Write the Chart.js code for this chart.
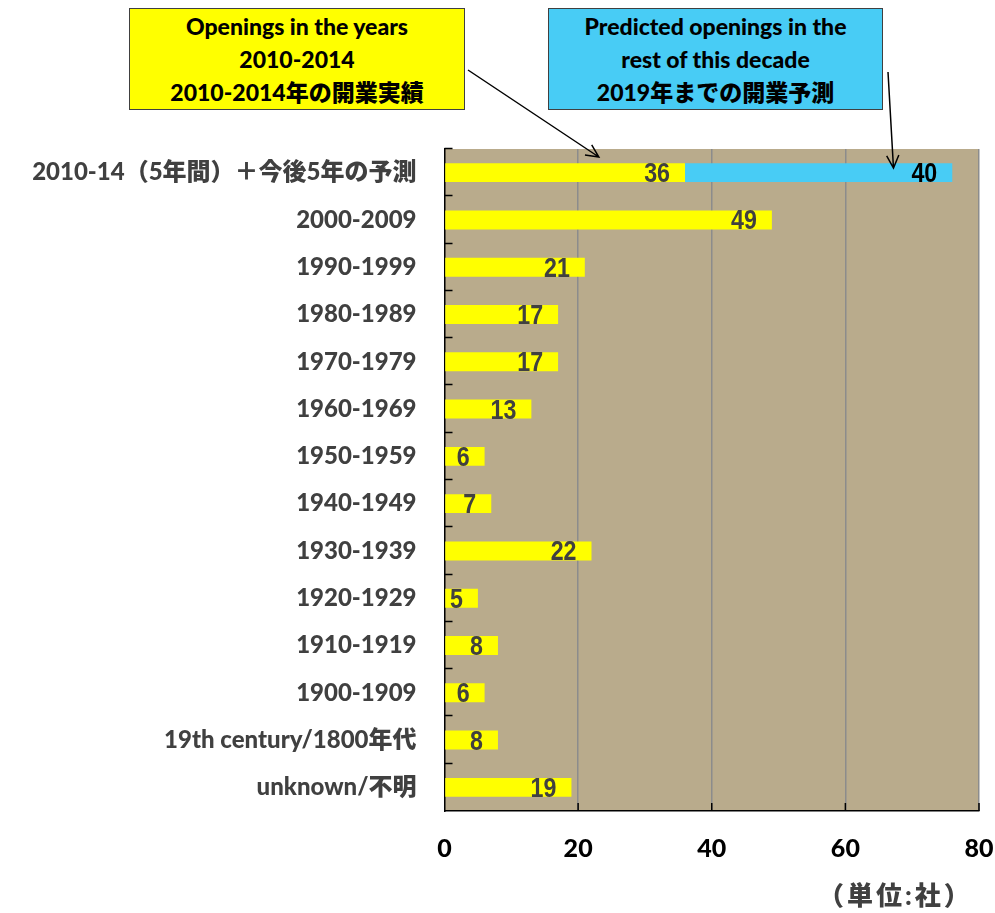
<!DOCTYPE html>
<html>
<head>
<meta charset="utf-8">
<script src="https://cdn.jsdelivr.net/npm/chart.js@4.4.1/dist/chart.umd.min.js"></script>
<style>
  html, body { margin: 0; padding: 0; background: #fff; }
  #wrap { position: relative; width: 995px; height: 913px; }
  canvas { position: absolute; left: 0; top: 0; }
  .callout {
    position: absolute; box-sizing: border-box; border: 1.5px solid #404040;
    font: 900 23px Lato, "Noto Sans CJK JP", sans-serif; color: #000;
    text-align: center; line-height: 33px; padding-top: 1px;
  }
  #unit {
    position: absolute; left: 818px; top: 875px; letter-spacing: 3px;
    font: 900 26px Lato, "Noto Sans CJK JP", sans-serif; color: #404040;
  }
</style>
</head>
<body>
<div id="wrap">
  <canvas id="chart" width="995" height="913"></canvas>
  <div class="callout" style="left:129px;top:8px;width:336px;height:102px;background:#ffff00;">Openings in the years<br>2010-2014<br>2010-2014年の開業実績</div>
  <div class="callout" style="left:548px;top:8px;width:335px;height:102px;background:#48ccf5;">Predicted openings in the<br>rest of this decade<br>2019年までの開業予測</div>
  <div id="unit">（単位:社）</div>
</div>
<script>
const categories = [
  '2010-14（5年間）＋今後5年の予測', '2000-2009', '1990-1999', '1980-1989', '1970-1979',
  '1960-1969', '1950-1959', '1940-1949', '1930-1939', '1920-1929', '1910-1919',
  '1900-1909', '19th century/1800年代', 'unknown/不明'
];
const openings = [36, 49, 21, 17, 17, 13, 6, 7, 22, 5, 8, 6, 8, 19];
const predicted = [40, null, null, null, null, null, null, null, null, null, null, null, null, null];
const xTicks = [0, 20, 40, 60, 80];

// narrow look for the value labels: Liberation Sans bold squeezed sideways
const labelFont = 'bold 27px "Liberation Sans", Arial, sans-serif';
const squeeze = 0.86;

// plot background, inner tick marks, value labels and callout arrows
const extras = {
  id: 'extras',
  beforeDraw(chart) {
    const { ctx, chartArea: a } = chart;
    ctx.save();
    ctx.fillStyle = '#b9ab8c';
    ctx.fillRect(a.left, a.top, a.right - a.left, a.bottom - a.top);
    ctx.restore();
  },
  afterDatasetsDraw(chart) {
    const { ctx } = chart;
    chart.data.datasets.forEach((ds, di) => {
      const meta = chart.getDatasetMeta(di);
      meta.data.forEach((bar, i) => {
        if (ds.data[i] == null) return;
        ctx.save();
        ctx.font = labelFont;
        ctx.textAlign = 'right';
        ctx.textBaseline = 'middle';
        ctx.fillStyle = ds.labelColor;
        ctx.translate(bar.x - 15, bar.y + 2);
        ctx.scale(squeeze, 1);
        ctx.fillText(String(ds.data[i]), 0, 0);
        ctx.restore();
      });
    });
  },
  afterDraw(chart) {
    const { ctx, chartArea: a, scales } = chart;
    ctx.save();
    ctx.strokeStyle = '#000';
    ctx.lineWidth = 1.5;
    const n = categories.length;
    const step = (a.bottom - a.top) / n;
    ctx.beginPath();
    for (let i = 0; i < n; i++) {
      const y = Math.round(a.top + i * step) - 0.5;
      ctx.moveTo(a.left, y);
      ctx.lineTo(a.left + 8, y);
    }
    xTicks.slice(1).forEach(v => {
      const x = scales.x.getPixelForValue(v);
      ctx.moveTo(x, a.bottom);
      ctx.lineTo(x, a.bottom - 8);
    });
    ctx.stroke();

    const arrow = (x1, y1, x2, y2) => {
      const ang = Math.atan2(y2 - y1, x2 - x1);
      const len = 14, spread = 0.45;
      ctx.beginPath();
      ctx.moveTo(x1, y1);
      ctx.lineTo(x2, y2);
      ctx.moveTo(x2 - len * Math.cos(ang - spread), y2 - len * Math.sin(ang - spread));
      ctx.lineTo(x2, y2);
      ctx.lineTo(x2 - len * Math.cos(ang + spread), y2 - len * Math.sin(ang + spread));
      ctx.stroke();
    };
    arrow(468, 70, scales.x.getPixelForValue(23.1), a.top + 8);
    arrow(888, 72, scales.x.getPixelForValue(67.2), a.top + 19);
    ctx.restore();
  }
};

new Chart(document.getElementById('chart'), {
  type: 'bar',
  data: {
    labels: categories,
    datasets: [
      {
        label: 'Openings',
        data: openings,
        backgroundColor: '#ffff00',
        labelColor: '#404040',
        barPercentage: 0.4,
        categoryPercentage: 1
      },
      {
        label: 'Predicted',
        data: predicted,
        backgroundColor: '#48ccf5',
        labelColor: '#000000',
        barPercentage: 0.4,
        categoryPercentage: 1
      }
    ]
  },
  options: {
    indexAxis: 'y',
    responsive: false,
    animation: false,
    layout: { padding: { top: 149, right: 16, bottom: 0, left: 0 } },
    plugins: {
      legend: { display: false },
      tooltip: { enabled: false }
    },
    scales: {
      x: {
        stacked: true,
        min: 0,
        max: 80,
        afterBuildTicks: s => { s.ticks = xTicks.map(v => ({ value: v })); },
        afterFit: s => { s.height = 102; s.paddingLeft = 0; s.paddingRight = 0; },
        grid: {
          drawTicks: false,
          color: c => (c.tick && c.tick.value === 0 ? 'rgba(0,0,0,0)' : '#8c8c8c'),
          lineWidth: 1.5
        },
        border: { display: true, color: '#000', width: 1.5 },
        ticks: {
          padding: 23,
          color: '#000',
          font: { family: 'Lato, sans-serif', size: 25, weight: '900' }
        }
      },
      y: {
        stacked: true,
        afterFit: s => { s.width = 444.5; },
        grid: { display: false, drawTicks: false },
        border: { display: true, color: '#000', width: 1.5 },
        ticks: {
          padding: 28,
          color: '#404040',
          font: { family: 'Lato, "Noto Sans CJK JP", sans-serif', size: 24, weight: '900' }
        }
      }
    }
  },
  plugins: [extras]
});
</script>
</body>
</html>
